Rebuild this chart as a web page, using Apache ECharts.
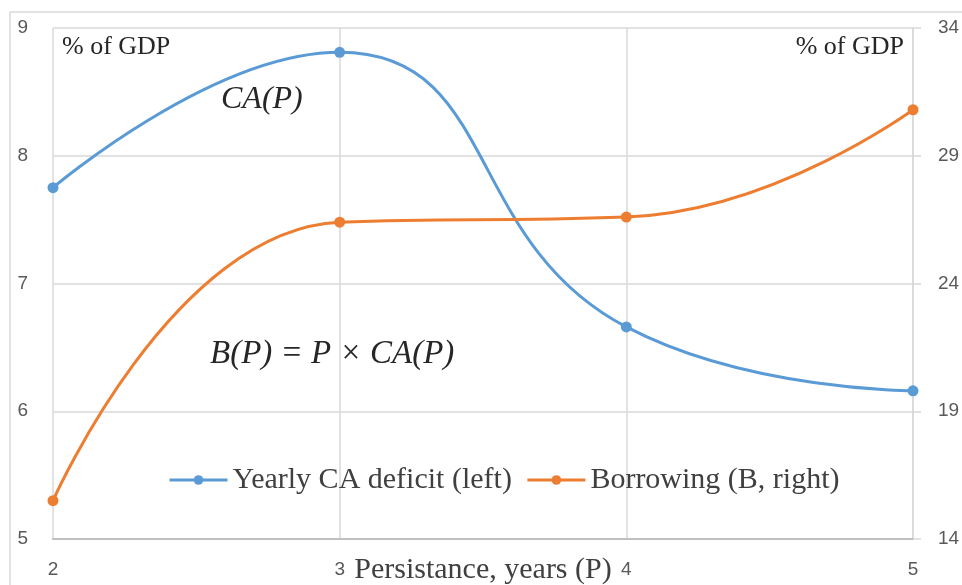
<!DOCTYPE html>
<html lang="en">
<head>
    <meta charset="UTF-8">
    <title>CA deficit and borrowing</title>
    <script src="https://cdn.jsdelivr.net/npm/echarts@6.0.0/dist/echarts.min.js"></script>
    <style>
        body { margin: 0; background: #fff; }
        #main { width: 962px; height: 585px; }
    </style>
</head>
<body>
    <div id="main"></div>
    <script type="text/javascript">
        // data
        const years = ['2', '3', '4', '5'];
        const caDeficit = [7.75, 8.81, 6.66, 6.16];      // left axis
        const borrowing = [15.5, 26.4, 26.6, 30.8];      // right axis
        const blue = '#5B9BD5';
        const orange = '#ED7D31';
        const serif = 'Liberation Serif';

        var chart = echarts.init(document.getElementById('main'));
        var option = {
            animation: false,
            grid: { left: 53, right: 49, top: 28, bottom: 46, outerBoundsMode: 'none' },
            legend: {
                left: 163,
                top: 460,
                itemWidth: 58,
                itemHeight: 12,
                itemGap: 14,
                lineStyle: { width: 3 },
                textStyle: { fontFamily: serif, fontSize: 30, color: '#404040' },
                data: ['Yearly CA deficit (left)', 'Borrowing (B, right)']
            },
            xAxis: {
                type: 'category',
                data: years,
                boundaryGap: false,
                name: 'Persistance, years (P)',
                nameLocation: 'middle',
                nameGap: 16,
                nameMoveOverlap: false,
                nameTextStyle: { fontFamily: serif, fontSize: 30, color: '#404040' },
                axisLine: { lineStyle: { color: '#bfbfbf', width: 2 } },
                axisTick: { show: false },
                axisLabel: { margin: 21, fontSize: 19, color: '#595959', fontFamily: 'Liberation Sans' },
                splitLine: { show: true, lineStyle: { color: '#d9d9d9', width: 1.5 } }
            },
            yAxis: [
                {
                    type: 'value',
                    min: 5, max: 9, interval: 1,
                    axisLine: { show: false },
                    axisTick: { show: false },
                    axisLabel: { margin: 25, fontSize: 19, color: '#595959', fontFamily: 'Liberation Sans' },
                    splitLine: { lineStyle: { color: '#d9d9d9', width: 1.5 } }
                },
                {
                    type: 'value',
                    min: 14, max: 34, interval: 5,
                    position: 'right',
                    axisLine: { show: true, lineStyle: { color: '#d9d9d9', width: 1.5 } },
                    axisTick: { show: true, length: 8, lineStyle: { color: '#d9d9d9', width: 1.5 } },
                    axisLabel: { margin: 25, fontSize: 19, color: '#595959', fontFamily: 'Liberation Sans' },
                    splitLine: { show: false }
                }
            ],
            series: [
                {
                    name: 'Yearly CA deficit (left)',
                    type: 'line',
                    data: caDeficit,
                    yAxisIndex: 0,
                    smooth: 0.5,
                    symbol: 'circle',
                    symbolSize: 11,
                    itemStyle: { color: blue },
                    lineStyle: { color: blue, width: 3 }
                },
                {
                    name: 'Borrowing (B, right)',
                    type: 'line',
                    data: borrowing,
                    yAxisIndex: 1,
                    smooth: 0.5,
                    symbol: 'circle',
                    symbolSize: 11,
                    itemStyle: { color: orange },
                    lineStyle: { color: orange, width: 3 }
                }
            ],
            graphic: [
                // outer chart frame
                { type: 'rect', shape: { x: 10, y: 12, width: 980, height: 600 },
                  style: { fill: 'none', stroke: '#d9d9d9', lineWidth: 1.5 }, silent: true },
                { type: 'text', left: 62, top: 34,
                  style: { text: '% of GDP', font: '26px "Liberation Serif"', fill: '#262626' } },
                { type: 'text', right: 58, top: 34,
                  style: { text: '% of GDP', font: '26px "Liberation Serif"', fill: '#262626' } },
                { type: 'text', left: 221, top: 84,
                  style: { text: 'CA(P)', font: 'italic 32px "Liberation Serif"', fill: '#262626' } },
                { type: 'text', left: 210, top: 338,
                  style: { text: 'B(P) = P \u00d7 CA(P)', font: 'italic 33px "Liberation Serif"', fill: '#262626' } }
            ]
        };
        chart.setOption(option);
    </script>
</body>
</html>
